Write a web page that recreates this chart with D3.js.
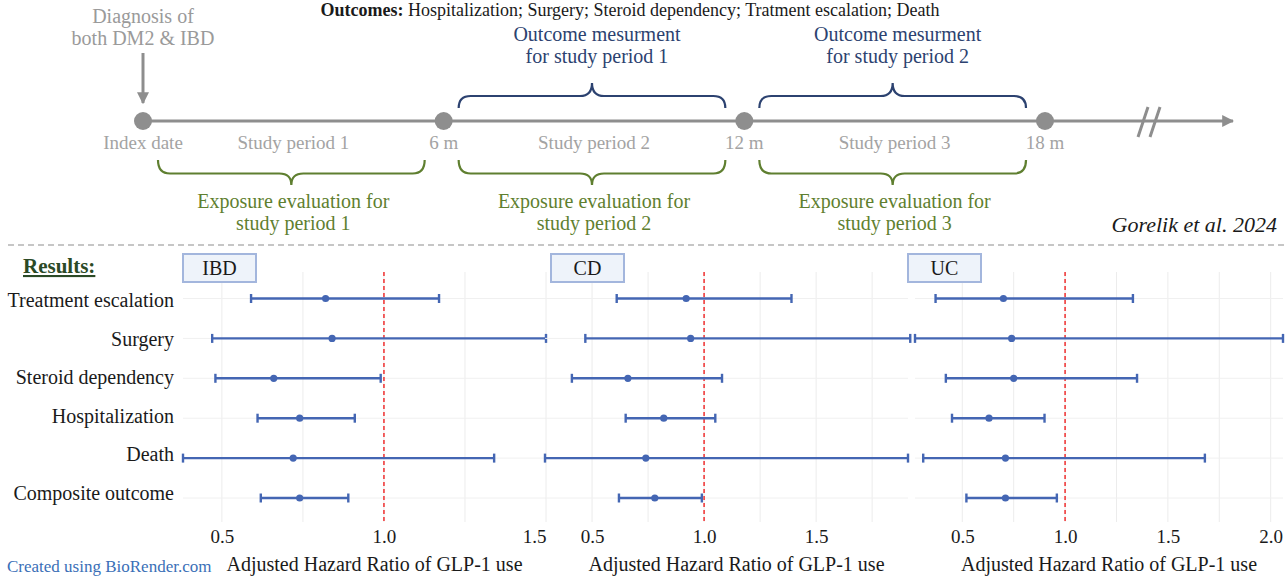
<!DOCTYPE html>
<html>
<head>
<meta charset="utf-8">
<script src="https://cdn.jsdelivr.net/npm/d3@7"></script>
<style>
  body { margin: 0; background: #fff; }
  svg { display: block; font-family: 'Liberation Serif', 'Times New Roman', serif; }
</style>
</head>
<body>
<div id="chart"></div>
<script>
// ---- data ----
const outcomes = ['Treatment escalation', 'Surgery', 'Steroid dependency', 'Hospitalization', 'Death', 'Composite outcome'];
const panels = ['IBD', 'CD', 'UC'];

// adjusted hazard ratios with 95% CI, one value per outcome
const ibdHR = [0.82, 0.84, 0.66, 0.74, 0.72, 0.74];
const ibdLower = [0.59, 0.47, 0.48, 0.61, 0.38, 0.62];
const ibdUpper = [1.17, 1.50, 0.99, 0.91, 1.34, 0.89];

const cdHR = [0.92, 0.94, 0.66, 0.82, 0.74, 0.78];
const cdLower = [0.61, 0.47, 0.41, 0.65, 0.29, 0.62];
const cdUpper = [1.39, 1.92, 1.08, 1.05, 1.91, 0.99];

const ucHR = [0.70, 0.74, 0.75, 0.63, 0.71, 0.71];
const ucLower = [0.37, 0.27, 0.42, 0.45, 0.31, 0.52];
const ucUpper = [1.33, 2.06, 1.35, 0.90, 1.68, 0.96];

const ibdTicks = [0.5, 1.0, 1.5];
const cdTicks = [0.5, 1.0, 1.5];
const ucTicks = [0.5, 1.0, 1.5, 2.0];

// study design timeline
const timeMonths = [0, 6, 12, 18];
const timeLabels = ['Index date', '6 m', '12 m', '18 m'];
const periodLabels = ['Study period 1', 'Study period 2', 'Study period 3'];
const exposureLabels = [['Exposure evaluation for', 'study period 1'], ['Exposure evaluation for', 'study period 2'], ['Exposure evaluation for', 'study period 3']];
const outcomeLabels = [['Outcome mesurment', 'for study period 1'], ['Outcome mesurment', 'for study period 2']];

// ---- layout ----
const W = 1288, H = 577;
const grey = '#8e8e8e';
const blue = '#2c4270';
const green = '#5f7f30';
const barColor = '#4466b3';

const svg = d3.select('#chart').append('svg')
    .attr('width', W)
    .attr('height', H);

const defs = svg.append('defs');
defs.append('marker')
    .attr('id', 'arrow')
    .attr('viewBox', '0 0 10 10')
    .attr('refX', 9).attr('refY', 5)
    .attr('markerWidth', 4).attr('markerHeight', 4)
    .attr('markerUnits', 'strokeWidth')
    .attr('orient', 'auto')
    .append('path')
    .attr('d', 'M0,0 L10,5 L0,10 Z')
    .attr('fill', grey);

// ---- header ----
const header = svg.append('text')
    .attr('x', 630).attr('y', 16)
    .attr('text-anchor', 'middle')
    .attr('font-size', 18)
    .attr('fill', '#1a1a1a');
header.append('tspan').attr('font-weight', 'bold').text('Outcomes:');
header.append('tspan').text(' Hospitalization; Surgery; Steroid dependency; Tratment escalation; Death');

// ---- timeline ----
const tx = d3.scaleLinear().domain([0, 18]).range([143, 1045]);
const lineY = 121;

const timeline = svg.append('g').attr('class', 'timeline');

timeline.append('line')
    .attr('x1', tx(0)).attr('x2', 1233)
    .attr('y1', lineY).attr('y2', lineY)
    .attr('stroke', grey)
    .attr('stroke-width', 3)
    .attr('marker-end', 'url(#arrow)');

// axis break marks
[0, 12].forEach(dx => {
    timeline.append('line')
        .attr('x1', 1148 + dx).attr('y1', 107)
        .attr('x2', 1138 + dx).attr('y2', 137)
        .attr('stroke', grey)
        .attr('stroke-width', 3);
});

timeline.selectAll('.tp')
    .data(timeMonths)
    .enter().append('circle')
    .attr('class', 'tp')
    .attr('cx', d => tx(d))
    .attr('cy', lineY)
    .attr('r', 9)
    .attr('fill', grey);

timeline.selectAll('.tl')
    .data(timeMonths)
    .enter().append('text')
    .attr('class', 'tl')
    .attr('x', d => tx(d))
    .attr('y', 149)
    .attr('text-anchor', 'middle')
    .attr('font-size', 19)
    .attr('fill', '#a3a3a3')
    .text((d, i) => timeLabels[i]);

timeline.selectAll('.pl')
    .data(periodLabels)
    .enter().append('text')
    .attr('class', 'pl')
    .attr('x', (d, i) => tx(i * 6 + 3))
    .attr('y', 149)
    .attr('text-anchor', 'middle')
    .attr('font-size', 19)
    .attr('fill', '#a3a3a3')
    .text(d => d);

// diagnosis arrow
timeline.append('text')
    .attr('x', tx(0)).attr('y', 23)
    .attr('text-anchor', 'middle')
    .attr('font-size', 20)
    .attr('fill', '#9a9a9a')
    .selectAll('tspan')
    .data(['Diagnosis of', 'both DM2 & IBD'])
    .enter().append('tspan')
    .attr('x', tx(0))
    .attr('dy', (d, i) => i ? 22 : 0)
    .text(d => d);

timeline.append('line')
    .attr('x1', tx(0)).attr('x2', tx(0))
    .attr('y1', 53).attr('y2', 103)
    .attr('stroke', grey)
    .attr('stroke-width', 3)
    .attr('marker-end', 'url(#arrow)');

// curly brace between x1 and x2
function brace(x1, x2, yEnd, yLine, yTip) {
    const mid = (x1 + x2) / 2;
    const r = 12;
    return `M${x1},${yEnd} Q${x1},${yLine} ${x1 + r},${yLine} L${mid - r},${yLine} Q${mid},${yLine} ${mid},${yTip}` +
        ` Q${mid},${yLine} ${mid + r},${yLine} L${x2 - r},${yLine} Q${x2},${yLine} ${x2},${yEnd}`;
}

// exposure windows (green, below the line)
periodLabels.forEach((p, i) => {
    const x1 = tx(i * 6) + 15;
    const x2 = tx(i * 6 + 6) - 19;
    timeline.append('path')
        .attr('d', brace(x1, x2, 160, 173.5, 185))
        .attr('fill', 'none')
        .attr('stroke', green)
        .attr('stroke-width', 2.2);
    timeline.append('text')
        .attr('text-anchor', 'middle')
        .attr('font-size', 20)
        .attr('fill', green)
        .selectAll('tspan')
        .data(exposureLabels[i])
        .enter().append('tspan')
        .attr('x', (x1 + x2) / 2 + 2)
        .attr('y', (d, j) => 208 + j * 21.5)
        .text(d => d);
});

// outcome windows (blue, above the line)
outcomeLabels.forEach((lab, i) => {
    const x1 = tx(i * 6 + 6) + 15;
    const x2 = tx(i * 6 + 12) - 19;
    timeline.append('path')
        .attr('d', brace(x1, x2, 108, 96, 83))
        .attr('fill', 'none')
        .attr('stroke', blue)
        .attr('stroke-width', 2.2);
    timeline.append('text')
        .attr('text-anchor', 'middle')
        .attr('font-size', 20)
        .attr('fill', blue)
        .selectAll('tspan')
        .data(lab)
        .enter().append('tspan')
        .attr('x', (x1 + x2) / 2 + 5)
        .attr('y', (d, j) => 41 + j * 21.5)
        .text(d => d);
});

svg.append('text')
    .attr('x', 1277).attr('y', 232)
    .attr('text-anchor', 'end')
    .attr('font-size', 22)
    .attr('font-style', 'italic')
    .attr('fill', '#1a1a1a')
    .text('Gorelik et al. 2024');

// dashed separator
svg.append('line')
    .attr('x1', 8).attr('x2', W)
    .attr('y1', 245).attr('y2', 245)
    .attr('stroke', '#c6c6c6')
    .attr('stroke-width', 2)
    .attr('stroke-dasharray', '6,4');

// ---- results ----
svg.append('text')
    .attr('x', 23).attr('y', 273)
    .attr('font-size', 21)
    .attr('font-weight', 'bold')
    .attr('fill', '#2b4a26')
    .attr('text-decoration', 'underline')
    .text('Results:');

const y = d3.scalePoint()
    .domain(outcomes)
    .range([298.5, 498]);

// row labels sit on their own slightly tighter spacing
const yLabel = d3.scalePoint()
    .domain(outcomes)
    .range([301, 494]);

svg.append('g').selectAll('text')
    .data(outcomes)
    .enter().append('text')
    .attr('x', 174)
    .attr('y', d => yLabel(d) + 6)
    .attr('text-anchor', 'end')
    .attr('font-size', 20)
    .attr('fill', '#1a1a1a')
    .text(d => d);

const panelSpecs = [
    {name: panels[0], hr: ibdHR, lo: ibdLower, hi: ibdUpper, ticks: ibdTicks, domain: [0.38, 1.5], range: [183, 546], box: 183},
    {name: panels[1], hr: cdHR, lo: cdLower, hi: cdUpper, ticks: cdTicks, domain: [0.29, 1.91], range: [545, 908], box: 551},
    {name: panels[2], hr: ucHR, lo: ucLower, hi: ucUpper, ticks: ucTicks, domain: [0.27, 2.06], range: [915, 1283], box: 908}
];

const plotTop = 272, plotBottom = 522;

panelSpecs.forEach(p => {
    const x = d3.scaleLinear().domain(p.domain).range(p.range);
    const g = svg.append('g').attr('class', 'panel');

    // grid
    const minor = d3.range(0.25, 2.26, 0.25).filter(v => x(v) >= p.range[0] - 3 && x(v) <= p.range[1] + 1);
    g.selectAll('.vgrid')
        .data(minor)
        .enter().append('line')
        .attr('class', 'vgrid')
        .attr('x1', d => x(d)).attr('x2', d => x(d))
        .attr('y1', plotTop).attr('y2', plotBottom)
        .attr('stroke', '#ececec')
        .attr('stroke-width', 1);
    g.selectAll('.hgrid')
        .data(outcomes)
        .enter().append('line')
        .attr('class', 'hgrid')
        .attr('x1', p.range[0]).attr('x2', p.range[1])
        .attr('y1', d => y(d)).attr('y2', d => y(d))
        .attr('stroke', '#f0f0f0')
        .attr('stroke-width', 1);

    // reference line at HR = 1
    g.append('line')
        .attr('x1', x(1)).attr('x2', x(1))
        .attr('y1', plotTop).attr('y2', plotBottom)
        .attr('stroke', '#f03030')
        .attr('stroke-width', 1.5)
        .attr('stroke-dasharray', '4,3');

    const rows = outcomes.map((o, i) => ({outcome: o, hr: p.hr[i], lo: p.lo[i], hi: p.hi[i]}));

    g.selectAll('.ci')
        .data(rows)
        .enter().append('line')
        .attr('class', 'ci')
        .attr('x1', d => x(d.lo)).attr('x2', d => x(d.hi))
        .attr('y1', d => y(d.outcome)).attr('y2', d => y(d.outcome))
        .attr('stroke', barColor)
        .attr('stroke-width', 2.4);

    ['lo', 'hi'].forEach(k => {
        g.selectAll('.cap-' + k)
            .data(rows)
            .enter().append('line')
            .attr('class', 'cap-' + k)
            .attr('x1', d => x(d[k])).attr('x2', d => x(d[k]))
            .attr('y1', d => y(d.outcome) - 4.5).attr('y2', d => y(d.outcome) + 4.5)
            .attr('stroke', barColor)
            .attr('stroke-width', 2.4);
    });

    g.selectAll('.pt')
        .data(rows)
        .enter().append('circle')
        .attr('class', 'pt')
        .attr('cx', d => x(d.hr))
        .attr('cy', d => y(d.outcome))
        .attr('r', 3.6)
        .attr('fill', barColor);

    // x axis
    const axis = g.append('g')
        .attr('transform', `translate(0,${plotBottom})`)
        .call(d3.axisBottom(x).tickValues(p.ticks).tickSize(0).tickFormat(d3.format('.1f')));
    axis.select('.domain').remove();
    axis.selectAll('text')
        .attr('y', 21)
        .attr('dy', 0)
        .attr('font-family', 'Liberation Serif, serif')
        .attr('font-size', 19)
        .attr('fill', '#1a1a1a')
        .attr('text-anchor', d => x(d) > p.range[1] - 12 ? 'end' : 'middle');

    g.append('text')
        .attr('x', (p.range[0] + p.range[1]) / 2 + 10)
        .attr('y', 571)
        .attr('text-anchor', 'middle')
        .attr('font-size', 20)
        .attr('fill', '#1a1a1a')
        .text('Adjusted Hazard Ratio of GLP-1 use');

    // panel tag
    g.append('rect')
        .attr('x', p.box).attr('y', 254)
        .attr('width', 73).attr('height', 28)
        .attr('fill', '#eef3fa')
        .attr('stroke', '#a3b6dd')
        .attr('stroke-width', 2);
    g.append('text')
        .attr('x', p.box + 36.5).attr('y', 275)
        .attr('text-anchor', 'middle')
        .attr('font-size', 20)
        .attr('fill', '#1a1a1a')
        .text(p.name);
});

svg.append('text')
    .attr('x', 7).attr('y', 572)
    .attr('font-size', 17)
    .attr('fill', '#3a6fb7')
    .text('Created using BioRender.com');
</script>
</body>
</html>
